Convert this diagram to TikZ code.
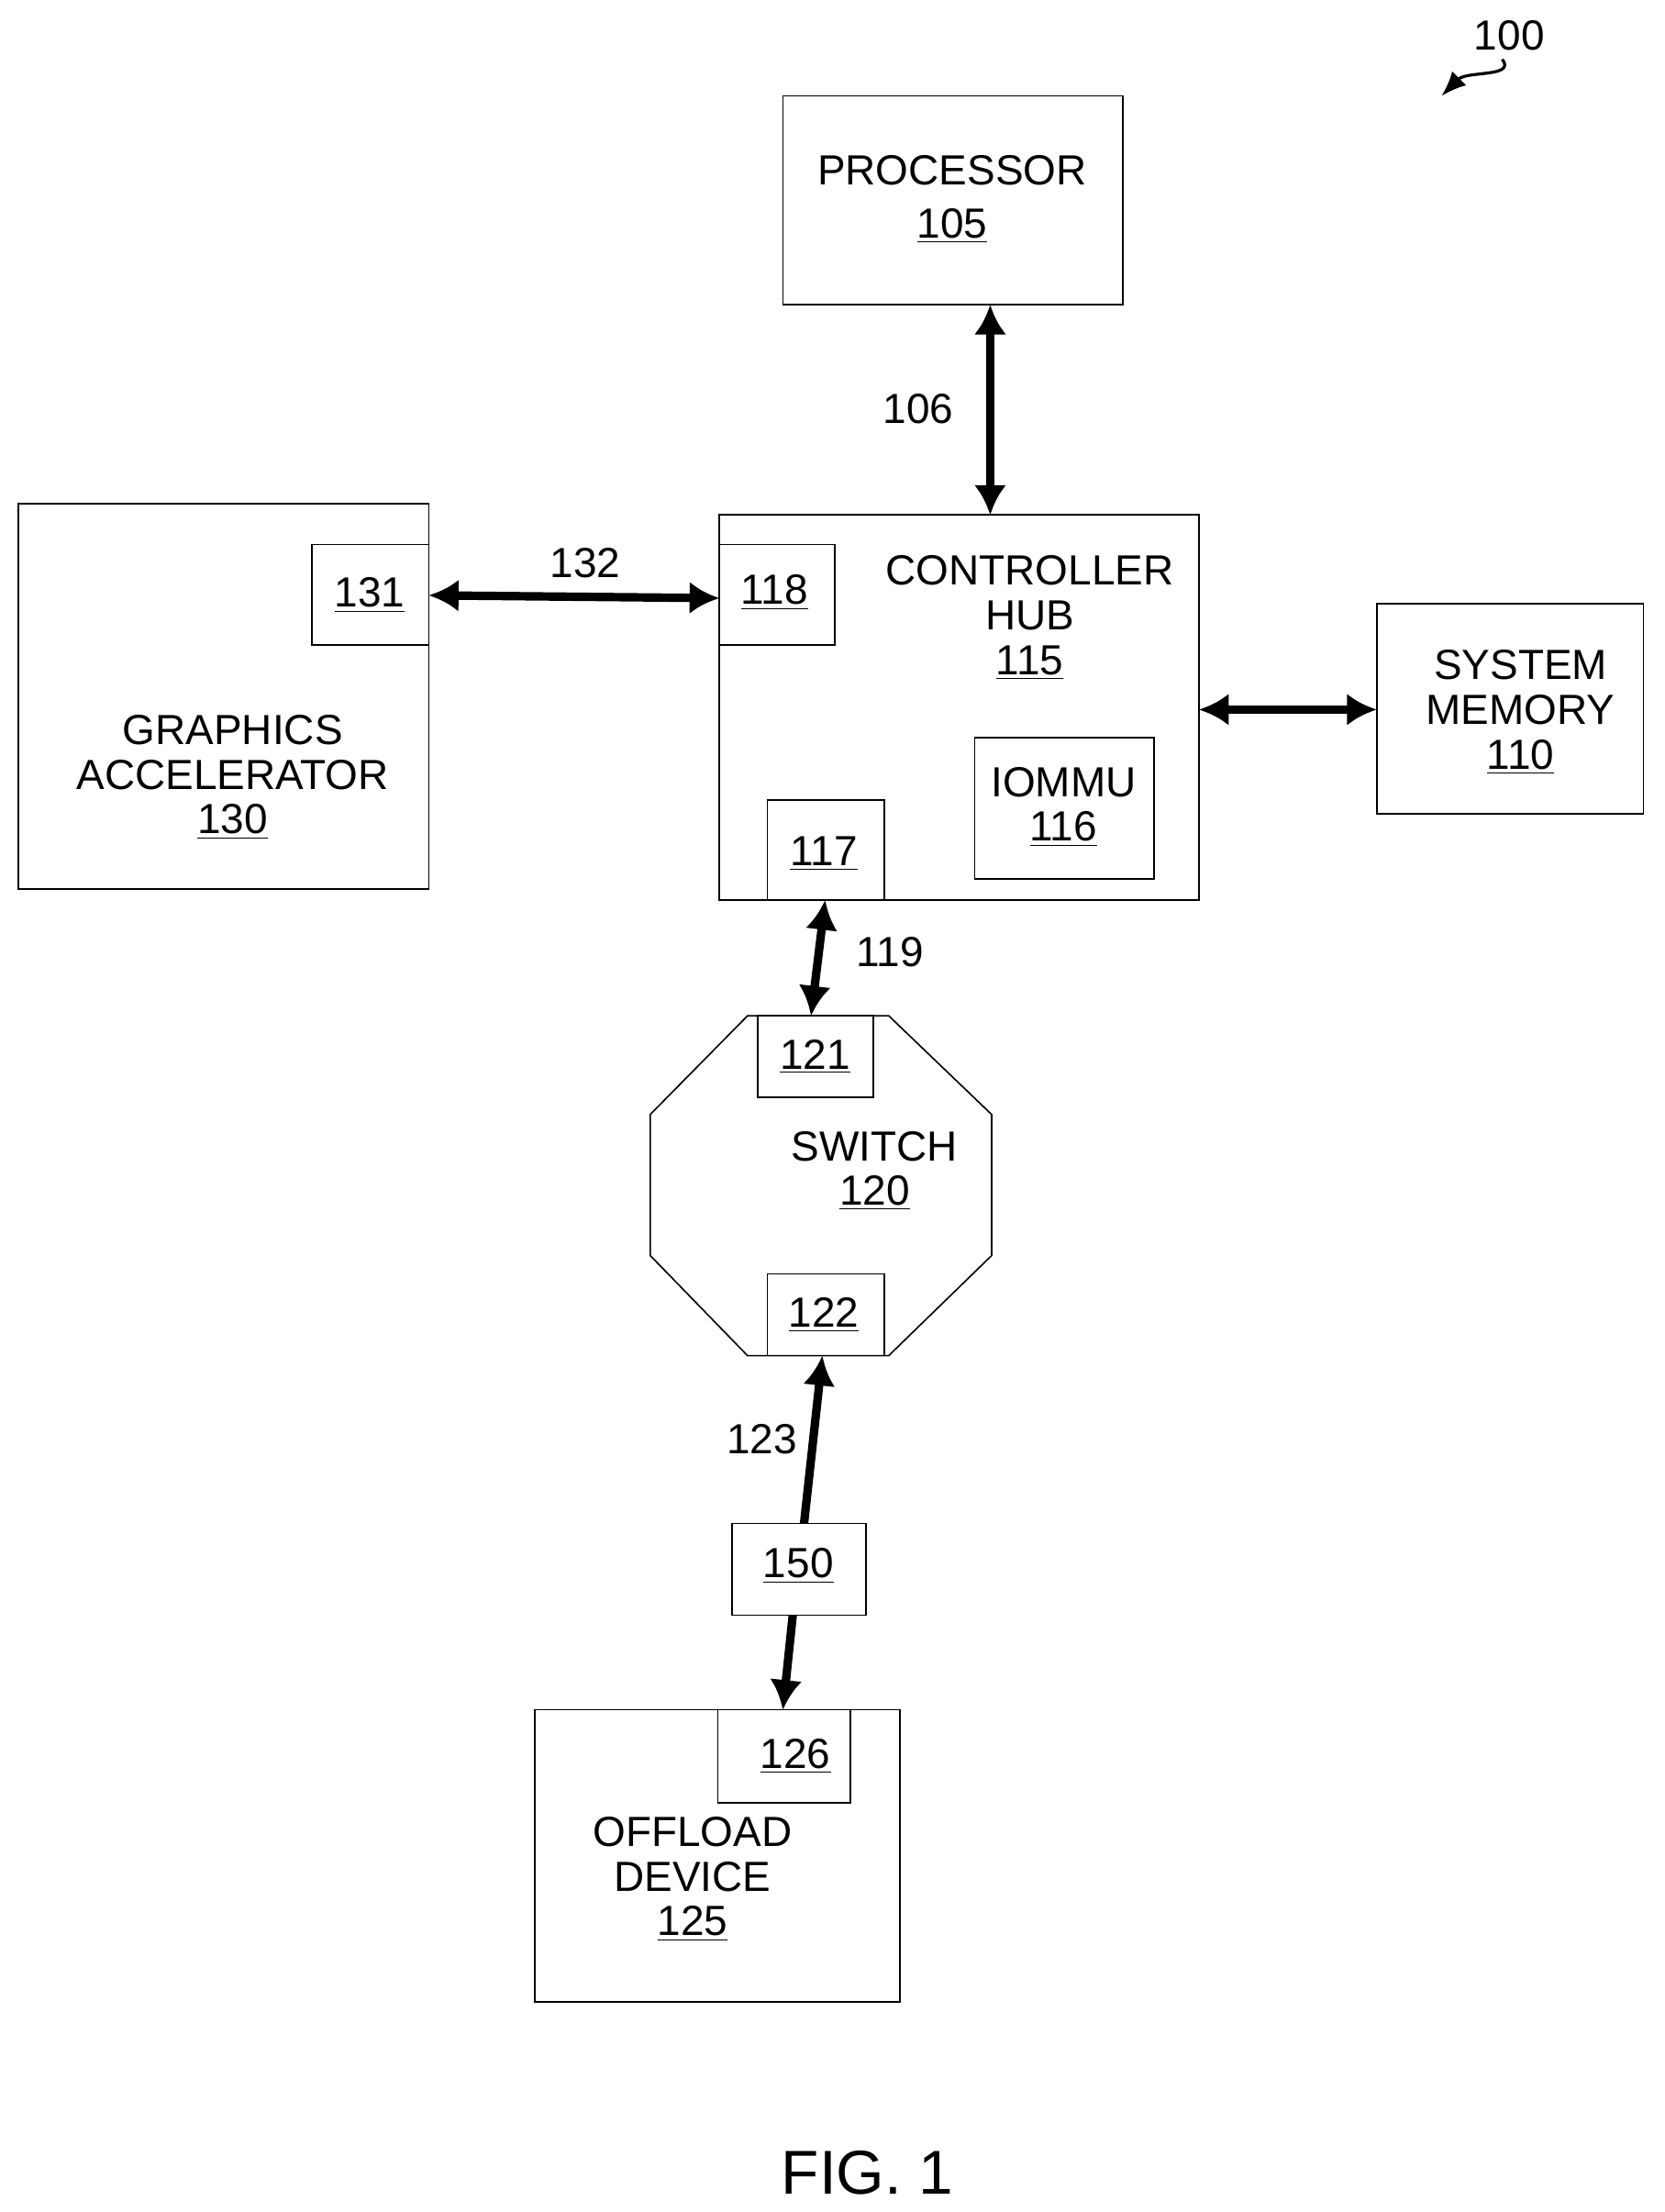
\documentclass[tikz,border=0pt]{standalone}
\usepackage{fontspec}
\setmainfont{Liberation Sans}
\usetikzlibrary{arrows.meta}
\begin{document}
\begin{tikzpicture}[x=0.02cm,y=-0.02cm,
  box/.style={draw,line width=0.6pt},
  lbl/.style={font=\fontsize{17}{20}\selectfont,align=center},
  bus/.style={line width=3.4pt,{Latex[length=12pt,width=13pt]}-{Latex[length=12pt,width=13pt]}},
  bus1/.style={line width=3.4pt,-{Latex[length=12pt,width=13pt]}}]
\useasboundingbox (0,0) rectangle (1180,1568);
% processor
\draw[box] (555,68) rectangle (796,216);
\node[lbl] (proc) at (675,121) {PROCESSOR};
\node[lbl] (n105) at (675,160) {\underline{105}};
\coordinate (pb) at (702,216);
% controller hub
\draw[box] (510,365) rectangle (850,638);
\coordinate (ht) at (702,365);
\node[lbl] (hub) at (730,438) {CONTROLLER\\[-2pt]HUB\\[-2pt]\underline{115}};
\draw[box] (510,386) rectangle (592,457);
\node[lbl] (n118) at (549,420) {\underline{118}};
\draw[box] (691,523) rectangle (818,623);
\node[lbl] (iommu) at (754,572) {IOMMU\\[-2pt]\underline{116}};
\draw[box] (544,567) rectangle (627,638);
\node[lbl] (n117) at (584,605) {\underline{117}};
\draw[bus] (pb) -- (ht);
\node[lbl] (l106) at (651,290) {106};
% graphics
\draw[box] (13,357) rectangle (304,630);
\draw[box] (221,386) rectangle (304,457);
\node[lbl] (n131) at (262,422) {\underline{131}};
\node[lbl] (gfx) at (165,551) {GRAPHICS\\[-2pt]ACCELERATOR\\[-2pt]\underline{130}};
\coordinate (g1) at (304,422);
\coordinate (h1) at (510,424);
\draw[bus] (g1) -- (h1);
\node[lbl] (l132) at (415,399) {132};
% system memory
\draw[box] (976,428) rectangle (1165,577);
\node[lbl] (mem) at (1078,505) {SYSTEM\\[-2pt]MEMORY\\[-2pt]\underline{110}};
\coordinate (h2) at (850,503);
\coordinate (m1) at (976,503);
\draw[bus] (h2) -- (m1);
% switch
\draw[box] (530,720) -- (630,720) -- (703,790) -- (703,890) -- (630,961) -- (530,961) -- (461,890) -- (461,790) -- cycle;
\draw[box] (537,720) rectangle (619,778);
\node[lbl] (n121) at (578,749) {\underline{121}};
\node[lbl] (sw) at (620,830) {SWITCH\\[-2pt]\underline{120}};
\draw[box] (544,903) rectangle (627,961);
\node[lbl] (n122) at (584,932) {\underline{122}};
\coordinate (h3) at (585,638);
\coordinate (s1) at (575,720);
\draw[bus] (h3) -- (s1);
\node[lbl] (l119) at (631,675) {119};
% 150
\draw[box] (519,1080) rectangle (614,1145);
\node[lbl] (n150) at (566,1110) {\underline{150}};
\coordinate (s2) at (583,961);
\coordinate (a1) at (570,1080);
\coordinate (a2) at (562,1145);
\coordinate (o1) at (555,1212);
\draw[bus1] (a1) -- (s2);
\draw[bus1] (a2) -- (o1);
\node[lbl] (l123) at (540,1020) {123};
% offload
\draw[box] (379,1212) rectangle (638,1419);
\draw[box] (509,1212) rectangle (603,1278);
\node[lbl] (n126) at (564,1245) {\underline{126}};
\node[lbl] (off) at (491,1332) {OFFLOAD\\[-2pt]DEVICE\\[-2pt]\underline{125}};
% fig
\node[font=\fontsize{25}{30}\selectfont] (fig) at (615,1540) {FIG. 1};
\node[lbl] (n100) at (1070,25) {100};
\coordinate (q1) at (1065,42);
\coordinate (q2) at (1022,68);
\draw[line width=1.2pt,-{Latex[length=10pt,width=8pt]}] (q1) .. controls (1075,55) and (1040,50) .. (q2);
\end{tikzpicture}
\end{document}
